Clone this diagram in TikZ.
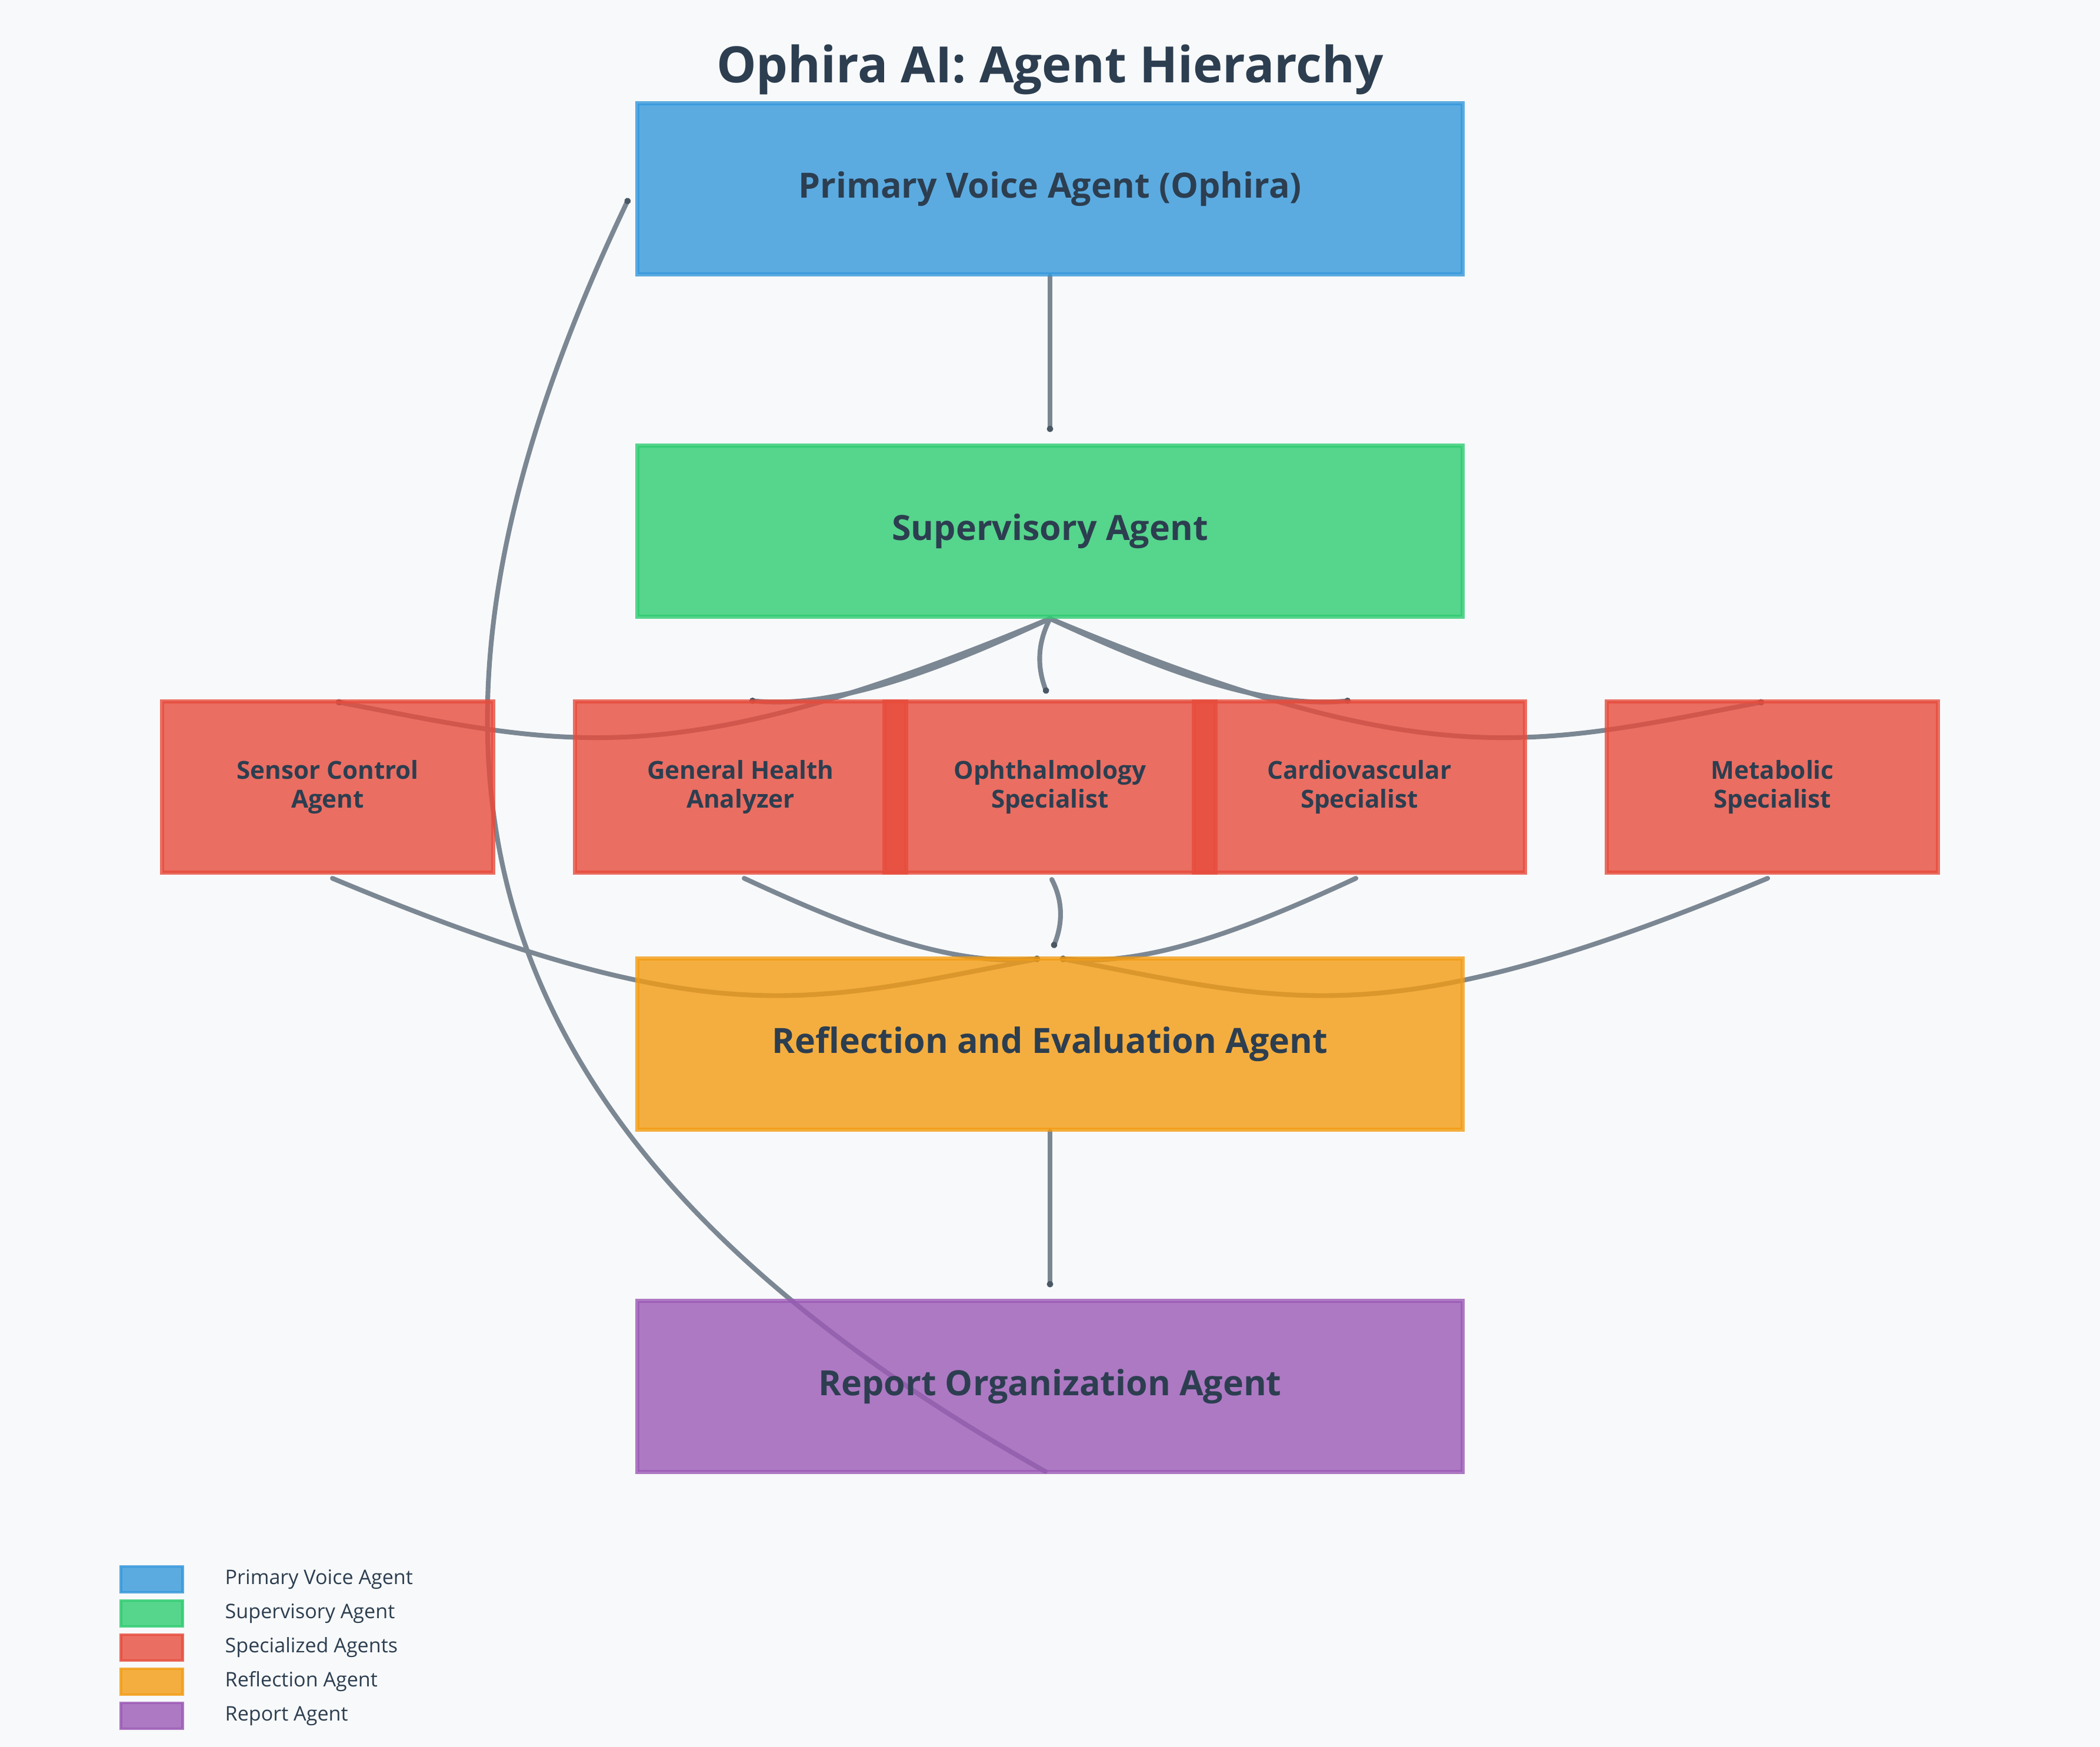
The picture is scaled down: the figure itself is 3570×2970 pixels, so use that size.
\documentclass[tikz,border=0pt]{standalone}
\usepackage{fontspec}
\setmainfont{Open Sans}
\usetikzlibrary{arrows.meta,calc}
\definecolor{bgc}{HTML}{F8F9FA}
\definecolor{txt}{HTML}{2C3E50}
\definecolor{conn}{HTML}{7B8793}
\definecolor{dotc}{HTML}{4A5866}
\definecolor{cblue}{HTML}{3498DB}
\definecolor{cgreen}{HTML}{2ECC71}
\definecolor{cred}{HTML}{E74C3C}
\definecolor{corange}{HTML}{F39C12}
\definecolor{cpurple}{HTML}{9B59B6}
\pgfdeclarelayer{back}
\pgfdeclarelayer{links}
\pgfsetlayers{back,links,main}
\begin{document}
\begin{tikzpicture}[x=0.01cm,y=-0.01cm,
  agent/.style={rectangle, draw=#1, fill=#1, fill opacity=0.8, draw opacity=0.8, text opacity=1, line width=2pt, text=txt, inner sep=0pt},
  mainbox/.style={agent=#1, minimum width=14.02cm, minimum height=2.90cm, font=\fontsize{16.8pt}{20pt}\selectfont\bfseries},
  specbox/.style={agent=cred, minimum width=5.62cm, minimum height=2.91cm, align=center, font=\fontsize{12pt}{13.7pt}\selectfont\bfseries},
  swatch/.style={agent=#1, line width=1.2pt, minimum width=1.05cm, minimum height=0.44cm},
  legtext/.style={anchor=west, text=txt, inner sep=0pt, font=\fontsize{9.7pt}{12pt}\selectfont},
  link/.style={draw=conn, line width=2.3pt, line cap=round, -{Circle[length=3pt,width=3pt,color=dotc]}}
]
\useasboundingbox (0,0) rectangle (3570,2970);
\begin{pgfonlayer}{back}
\fill[bgc] (0,0) rectangle (3570,2970);
\end{pgfonlayer}

\node[anchor=base, text=txt, inner sep=0pt, font=\fontsize{24.2pt}{28pt}\selectfont\bfseries] (title) at (1785,141) {Ophira AI: Agent Hierarchy};

\node[mainbox=cblue] (prim) at (1785,321) {Primary Voice Agent (Ophira)};
\node[mainbox=cgreen] (sup) at (1785,903) {Supervisory Agent};
\node[mainbox=corange] (refl) at (1785,1775) {Reflection and Evaluation Agent};
\node[mainbox=cpurple] (rep) at (1785,2357) {Report Organization Agent};

\node[specbox] (sens) at (557,1338) {Sensor Control\\Agent};
\node[specbox] (gh) at (1259,1338) {General Health\\Analyzer};
\node[specbox] (oph) at (1785,1338) {Ophthalmology\\Specialist};
\node[specbox] (card) at (2311,1338) {Cardiovascular\\Specialist};
\node[specbox] (meta) at (3013,1338) {Metabolic\\Specialist};

\begin{pgfonlayer}{links}
\draw[link] (prim.south) -- ($(sup.north)+(0,-20)$);
\draw[link] (refl.south) -- ($(rep.north)+(0,-20)$);
% supervisory fan
\draw[link] (sup.south) .. controls +(-646,270) and +(393,75) .. ($(sens.north)+(14,4)$);
\draw[link] (sup.south) .. controls +(-181,84) and +(150,15) .. ($(gh.north)+(15,2)$);
\draw[link] (sup.south) .. controls +(-23,45) and +(-16,-43) .. ($(oph.north)+(-5,-10)$);
\draw[link] (sup.south) .. controls +(181,84) and +(-150,15) .. ($(card.north)+(-15,2)$);
\draw[link] (sup.south) .. controls +(646,270) and +(-393,75) .. ($(meta.north)+(-14,4)$);
% reflection fan
\draw[link] ($(sens.south)+(8,6)$) .. controls +(646,270) and +(-393,75) .. ($(refl.north)+(-17,3)$);
\draw[link] ($(gh.south)+(6,6)$) .. controls +(181,84) and +(-150,15) .. ($(refl.north)+(-17,3)$);
\draw[link] ($(oph.south)+(3,8)$) .. controls +(20,38) and +(16,-40) .. ($(refl.north)+(5,-15)$);
\draw[link] ($(card.south)+(-6,6)$) .. controls +(-181,84) and +(150,15) .. ($(refl.north)+(17,3)$);
\draw[link] ($(meta.south)+(-8,6)$) .. controls +(-646,270) and +(393,75) .. ($(refl.north)+(17,3)$);
% report back to primary
\draw[link] ($(rep.south)+(-8,-4)$) .. controls +(-1000,-564) and +(-451,945) .. ($(prim.west)+(-11,16)$);
\end{pgfonlayer}

% legend
\node[swatch=cblue] (l1) at (258,2685) {};
\node[swatch=cgreen] (l2) at (258,2743) {};
\node[swatch=cred] (l3) at (258,2801) {};
\node[swatch=corange] (l4) at (258,2859) {};
\node[swatch=cpurple] (l5) at (258,2917) {};
\node[legtext] (t1) at (382,2685) {Primary Voice Agent};
\node[legtext] (t2) at (382,2743) {Supervisory Agent};
\node[legtext] (t3) at (382,2801) {Specialized Agents};
\node[legtext] (t4) at (382,2859) {Reflection Agent};
\node[legtext] (t5) at (382,2917) {Report Agent};
\end{tikzpicture}
\end{document}
